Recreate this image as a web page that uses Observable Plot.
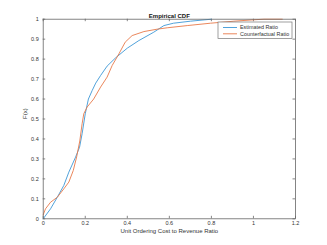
<!DOCTYPE html>
<html>
<head>
<meta charset="utf-8">
<script src="https://cdn.jsdelivr.net/npm/d3@7"></script>
<script src="https://cdn.jsdelivr.net/npm/@observablehq/plot@0.6"></script>
<style>
  html, body { margin: 0; padding: 0; background: #fff; }
  svg { display: block; }
</style>
</head>
<body>
<div id="chart"></div>
<script>
// ---- data ----
const estX = [0, 0.035, 0.067, 0.098, 0.122, 0.154, 0.173, 0.185, 0.2, 0.215, 0.233, 0.25, 0.273, 0.304, 0.344, 0.4, 0.455, 0.526, 0.574, 0.62, 0.70, 0.8];
const estF = [0, 0.05, 0.108, 0.167, 0.234, 0.309, 0.359, 0.426, 0.526, 0.6, 0.643, 0.68, 0.718, 0.765, 0.806, 0.855, 0.893, 0.935, 0.968, 0.98, 0.99, 1.0];
const cfX = [0, 0.011, 0.035, 0.067, 0.098, 0.122, 0.143, 0.159, 0.174, 0.185, 0.193, 0.209, 0.24, 0.273, 0.304, 0.328, 0.36, 0.39, 0.423, 0.479, 0.542, 0.59, 0.685, 0.796, 0.907, 1.0, 1.05, 1.137];
const cfF = [0.02, 0.05, 0.083, 0.108, 0.15, 0.184, 0.242, 0.31, 0.39, 0.476, 0.526, 0.56, 0.6, 0.66, 0.71, 0.768, 0.826, 0.885, 0.918, 0.938, 0.95, 0.957, 0.968, 0.98, 0.99, 0.997, 1.0, 1.0];
const seriesNames = ["Estimated Ratio", "Counterfactual Ratio"];
const xTicks = [0, 0.2, 0.4, 0.6, 0.8, 1, 1.2];
const xTickLabels = ["0", "0.2", "0.4", "0.6", "0.8", "1", "1.2"];
const yTicks = [0, 0.1, 0.2, 0.3, 0.4, 0.5, 0.6, 0.7, 0.8, 0.9, 1];
const yTickLabels = ["0", "0.1", "0.2", "0.3", "0.4", "0.5", "0.6", "0.7", "0.8", "0.9", "1"];
const title = "Empirical CDF";
const xLabel = "Unit Ordering Cost to Revenue Ratio";
const yLabel = "F(x)";

// ---- build ----
const colors = ["#3d97d6", "#e8794a"];
const estData = estX.map((x, i) => ({x, y: estF[i]}));
const cfData = cfX.map((x, i) => ({x, y: cfF[i]}));

const W = 327, H = 245;
const mL = 42.7, mR = 32, mT = 18.7, mB = 26.7;
const plotW = W - mL - mR, plotH = H - mT - mB;
const tk = 2.5;
const txt = "#333";
const font = "Liberation Sans, Arial, Helvetica, sans-serif";

const chart = Plot.plot({
  width: W, height: H,
  marginLeft: mL, marginRight: mR, marginTop: mT, marginBottom: mB,
  style: {fontFamily: font, background: "#fff", color: txt},
  x: {domain: [0, 1.2], axis: null},
  y: {domain: [0, 1], axis: null},
  marks: [
    // ticks (inward, on all four sides)
    Plot.tickX(xTicks, {x: d => d, insetTop: plotH - tk, stroke: "#555", strokeWidth: 0.7}),
    Plot.tickX(xTicks, {x: d => d, insetBottom: plotH - tk, stroke: "#555", strokeWidth: 0.7}),
    Plot.tickY(yTicks, {y: d => d, insetRight: plotW - tk, stroke: "#555", strokeWidth: 0.7}),
    Plot.tickY(yTicks, {y: d => d, insetLeft: plotW - tk, stroke: "#555", strokeWidth: 0.7}),
    // data
    Plot.line(estData, {x: "x", y: "y", stroke: colors[0], strokeWidth: 0.9}),
    Plot.line(cfData, {x: "x", y: "y", stroke: colors[1], strokeWidth: 0.9}),
    Plot.frame({stroke: "#666", strokeWidth: 0.8}),
    // tick labels
    Plot.text(xTicks, {x: d => d, frameAnchor: "bottom", dy: 6.3, text: (d, i) => xTickLabels[i], fontSize: 5.5, fill: txt}),
    Plot.text(yTicks, {y: d => d, frameAnchor: "left", dx: -4.5, textAnchor: "end", text: (d, i) => yTickLabels[i], fontSize: 5.5, fill: txt}),
    // title & axis labels
    Plot.text([title], {frameAnchor: "top", dy: -5.4, fontWeight: "bold", fontSize: 6, fill: "#111"}),
    Plot.text([xLabel], {frameAnchor: "bottom", dy: 14.4, fontSize: 6, fill: txt}),
    Plot.text([yLabel], {frameAnchor: "left", dx: -17.7, rotate: -90, fontSize: 6, fill: txt})
  ]
});

// legend inside plot (top-right)
const svg = d3.select(chart);
const lg = svg.append("g").style("font-family", font).style("font-size", "5.4px").style("text-anchor", "start");
const lx = 218, ly = 22, lw = 74, lh = 16.5;
lg.append("rect").attr("x", lx).attr("y", ly).attr("width", lw).attr("height", lh)
  .attr("fill", "#fff").attr("stroke", "#777").attr("stroke-width", 0.7);
seriesNames.forEach((name, i) => {
  const yy = ly + 5.5 + i * 6.3;
  lg.append("line").attr("x1", lx + 5).attr("x2", lx + 19).attr("y1", yy).attr("y2", yy)
    .attr("stroke", colors[i]).attr("stroke-width", 0.9);
  lg.append("text").attr("x", lx + 22).attr("y", yy).attr("dy", "0.35em")
    .attr("text-anchor", "start").attr("fill", txt).text(name);
});

document.getElementById("chart").appendChild(chart);
</script>
</body>
</html>
